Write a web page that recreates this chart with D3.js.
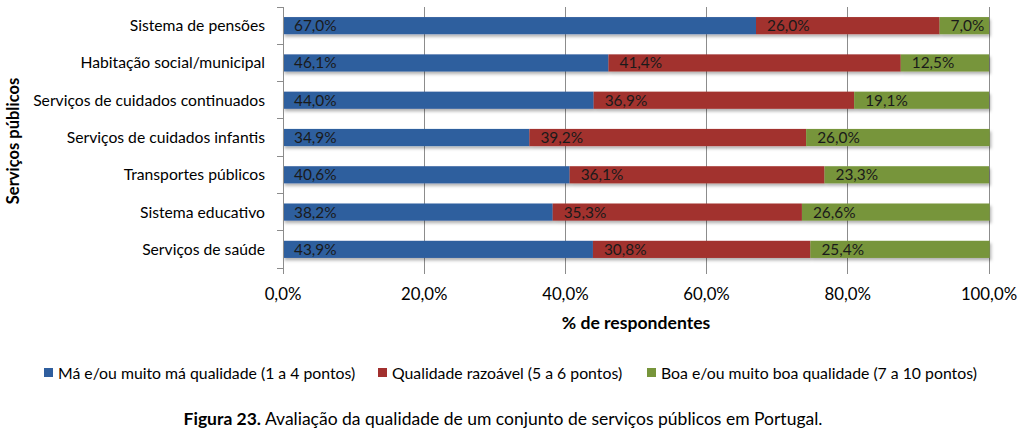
<!DOCTYPE html>
<html><head><meta charset="utf-8">
<script src="https://cdn.jsdelivr.net/npm/d3@7"></script>
<style>
body{margin:0;background:#fff;}
text{font-family:Lato,"Noto Sans",sans-serif;fill:#000;}
</style></head>
<body><svg id="c" width="1024" height="436"></svg>
<script>
const categories = ["Sistema de pensões","Habitação social/municipal","Serviços de cuidados continuados","Serviços de cuidados infantis","Transportes públicos","Sistema educativo","Serviços de saúde"];
const seriesNames = ["Má e/ou muito má qualidade (1 a 4 pontos)","Qualidade razoável (5 a 6 pontos)","Boa e/ou muito boa qualidade (7 a 10 pontos)"];
const ma = [67.0,46.1,44.0,34.9,40.6,38.2,43.9];
const razoavel = [26.0,41.4,36.9,39.2,36.1,35.3,30.8];
const boa = [7.0,12.5,19.1,26.0,23.3,26.6,25.4];
const xTicks = [0,20,40,60,80,100];
const colors = ["#2F5E9E","#A2302E","#77953B"];

const svg = d3.select("#c");
const defs = svg.append("defs");
const f = defs.append("filter").attr("id","sh").attr("x","-5%").attr("y","-30%").attr("width","110%").attr("height","190%");
f.append("feDropShadow").attr("dx",1.5).attr("dy",2.5).attr("stdDeviation",1.5).attr("flood-color","#000").attr("flood-opacity",0.3);

const x = d3.scaleLinear().domain([0,100]).range([283,989]);
const y = d3.scaleBand().domain(categories).range([7,268]).paddingInner(0.54).paddingOuter(0.27);

// gridlines
svg.append("g").selectAll("line").data(xTicks.slice(1)).join("line")
  .attr("x1",d=>x(d)).attr("x2",d=>x(d)).attr("y1",7).attr("y2",268)
  .attr("stroke","#8c8c8c").attr("stroke-width",1).attr("shape-rendering","crispEdges");

const fmt = v => d3.format(".1f")(v).replace(".",",")+"%";
const series = [ma,razoavel,boa];
const stacked = categories.map((c,i)=>{let s=0;return series.map((arr,k)=>{const o={c,k,v:arr[i],x0:s,x1:s+arr[i]};s+=arr[i];return o;});}).flat();

const bars = svg.append("g").attr("filter","url(#sh)");
bars.selectAll("rect").data(stacked).join("rect")
  .attr("x",d=>x(d.x0)).attr("width",d=>x(d.x1)-x(d.x0))
  .attr("y",d=>y(d.c)).attr("height",y.bandwidth())
  .attr("fill",d=>colors[d.k]);

svg.append("g").selectAll("text").data(stacked).join("text")
  .attr("x",d=>x(d.x0)+11).attr("y",d=>y(d.c)+y.bandwidth()/2+5.5)
  .attr("font-size",15.4).style("fill","#1a1a1a").text(d=>fmt(d.v));

// left axis
const ax = svg.append("g").attr("stroke","#8c8c8c").attr("shape-rendering","crispEdges");
ax.append("line").attr("x1",283).attr("x2",283).attr("y1",7).attr("y2",268);
const step = 261/categories.length;
ax.selectAll("line.t").data(d3.range(categories.length+1)).join("line").attr("class","t")
  .attr("x1",277).attr("x2",283).attr("y1",d=>7+d*step).attr("y2",d=>7+d*step);
ax.selectAll("line.b").data(xTicks).join("line").attr("class","b")
  .attr("x1",d=>x(d)).attr("x2",d=>x(d)).attr("y1",268).attr("y2",274);

svg.append("g").selectAll("text").data(categories).join("text")
  .attr("x",265).attr("y",d=>y(d)+y.bandwidth()/2+5.5).attr("text-anchor","end")
  .attr("font-size",15.7).text(d=>d);

svg.append("g").selectAll("text").data(xTicks).join("text")
  .attr("x",d=>x(d)).attr("y",300).attr("text-anchor","middle").attr("font-size",16.8)
  .text(d=>fmt(d));

svg.append("text").attr("x",636).attr("y",329).attr("text-anchor","middle")
  .attr("font-size",17.6).attr("font-weight","bold").text("% de respondentes");
svg.append("text").attr("transform","translate(19,141) rotate(-90)").attr("text-anchor","middle")
  .attr("font-size",16.5).attr("font-weight","bold").text("Serviços públicos");

// legend
const legX = [44,378,647];
const lg = svg.append("g").selectAll("g").data(seriesNames).join("g")
  .attr("transform",(d,i)=>`translate(${legX[i]},368)`);
lg.append("rect").attr("width",9).attr("height",9).attr("fill",(d,i)=>colors[i]);
lg.append("text").attr("x",14).attr("y",10.5).attr("font-size",15.8).text(d=>d);

// caption
const cap = svg.append("text").attr("x",503).attr("y",425).attr("text-anchor","middle").attr("font-size",17.5);
cap.append("tspan").attr("font-weight","bold").text("Figura 23.");
cap.append("tspan").text(" Avaliação da qualidade de um conjunto de serviços públicos em Portugal.");
</script></body></html>
